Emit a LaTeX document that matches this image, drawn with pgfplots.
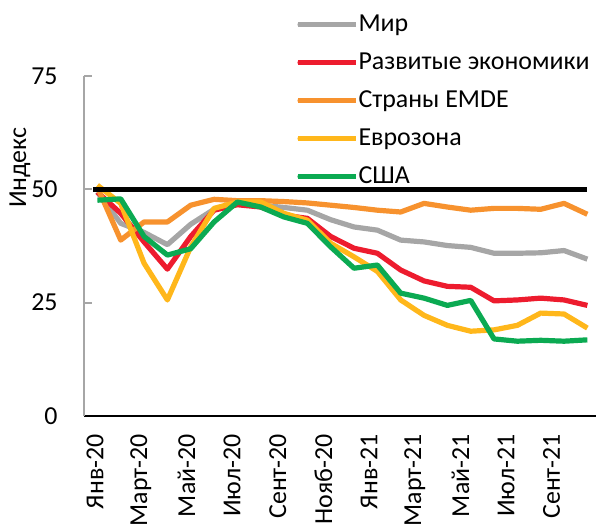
\documentclass[border=0pt]{standalone}
\usepackage{fontspec}
\setmainfont{Carlito}
\usepackage{pgfplots}
\usepackage{pgfplotstable}
\pgfplotsset{compat=1.18}

\definecolor{cmir}{HTML}{A6A6A6}
\definecolor{cdev}{HTML}{ED1C2E}
\definecolor{cemde}{HTML}{F7922E}
\definecolor{ceuro}{HTML}{FFB71B}
\definecolor{cusa}{HTML}{0BAA52}

% month index, then PMI-type index for each group
\pgfplotstableread{
i  mir  dev  emde euro usa
0  49.4 49.4 50.5 50.9 47.6
1  42.5 44.7 38.8 46.9 47.9
2  40.5 38.4 42.8 33.7 39.6
3  37.8 32.4 42.8 25.6 35.5
4  42.3 39.6 46.5 37.3 36.9
5  45.6 45.4 47.8 45.8 42.8
6  46.9 46.6 47.5 47.2 47.2
7  46.5 46.1 47.5 47.2 46.1
8  46.0 44.3 47.3 44.7 43.9
9  45.4 43.6 47.0 43.2 42.5
10 43.3 39.6 46.5 38.1 37.3
11 41.7 37.0 46.0 35.1 32.6
12 41.0 35.9 45.4 31.9 33.3
13 38.8 32.2 45.0 25.6 27.1
14 38.4 29.8 46.9 22.2 26.0
15 37.6 28.6 46.1 20.0 24.4
16 37.2 28.4 45.4 18.7 25.5
17 35.9 25.4 45.8 19.0 17.0
18 35.9 25.6 45.8 20.0 16.5
19 36.0 26.0 45.6 22.7 16.7
20 36.5 25.6 46.9 22.5 16.5
21 34.6 24.4 44.5 19.4 16.8
}\data

\begin{document}
\begin{tikzpicture}[font=\fontsize{13}{15}\selectfont]
\path[use as bounding box] (-42bp,-55.5bp) rectangle (256bp,208bp);
\begin{axis}[
  scale only axis, width=256bp, height=170bp,
  at={(0,0)}, anchor=south west,
  xmin=-0.574, xmax=21.37, ymin=0, ymax=75,
  axis lines*=left,
  x axis line style={black, line width=1.4bp},
  y axis line style={cmir, line width=1bp},
  xtick={-0.1,1.857,3.814,5.771,7.728,9.685,11.642,13.599,15.556,17.513,19.47},
  xticklabels={Янв-20,Март-20,Май-20,Июл-20,Сент-20,Нояб-20,Янв-21,Март-21,Май-21,Июл-21,Сент-21},
  x tick style={draw=none},
  xticklabel style={rotate=90, anchor=east, inner xsep=9bp, inner ysep=0pt},
  ytick={0,25,50,75},
  y tick style={cmir, line width=1bp},
  tick align=inside, major tick length=4bp,
  yticklabel style={inner xsep=0pt, xshift=-13bp},
  /pgf/number format/assume math mode=true,
  legend style={draw=none, fill=none, at={(axis description cs:0.412,1.186)},
    anchor=north west, inner sep=0pt, row sep=7.5bp,
    nodes={inner sep=0pt, text height=9bp, text depth=2.5bp},
    cells={anchor=west}},
  legend image code/.code={
    \draw[#1, line width=2.5bp, line cap=round] (1bp,0) -- (27.5bp,0);
    \path (0,0) -- (29bp,0);},
  clip=false,
  every axis plot/.append style={line width=2.6bp, line join=round},
]
\addplot[cmir] table[x=i, y=mir] {\data};
\addlegendentry{Мир}
\addplot[cdev] table[x=i, y=dev] {\data};
\addlegendentry{Развитые экономики}
\addplot[cemde] table[x=i, y=emde] {\data};
\addlegendentry{Страны EMDE}
\addplot[ceuro] table[x=i, y=euro] {\data};
\addlegendentry{Еврозона}
\addplot[cusa] table[x=i, y=usa] {\data};
\addlegendentry{США}
\addplot[black, line width=2.2bp, forget plot] coordinates {(-0.18,50) (21,50)};
\node[rotate=90] at (axis description cs:-0.125,0.73) {Индекс};
\end{axis}
\end{tikzpicture}
\end{document}
